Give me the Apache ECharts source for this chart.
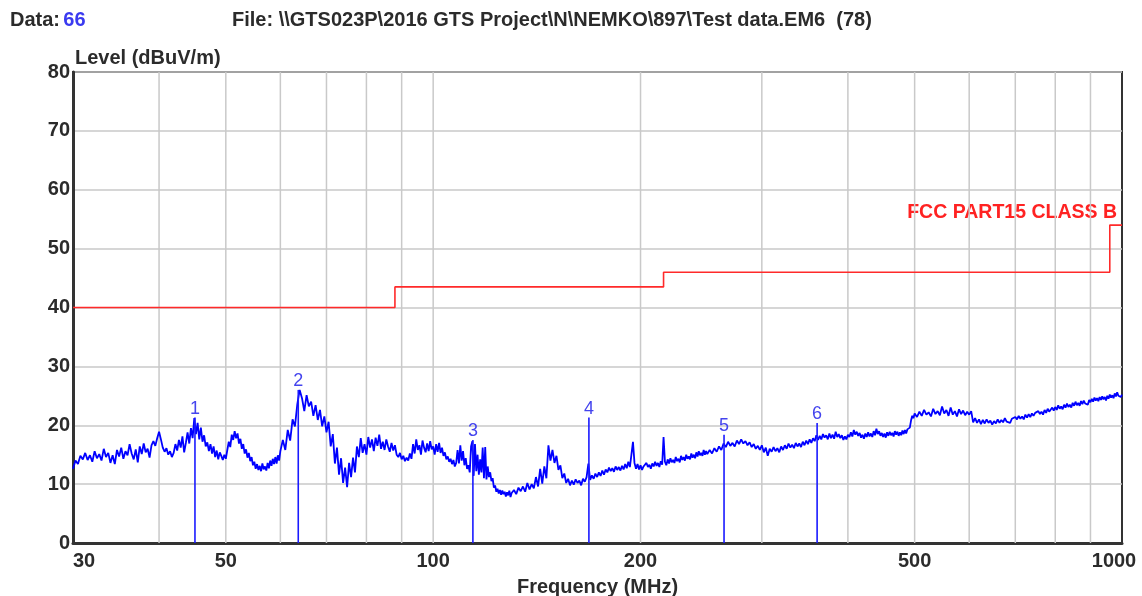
<!DOCTYPE html>
<html>
<head>
<meta charset="utf-8">
<script src="https://cdn.jsdelivr.net/npm/echarts@6/dist/echarts.min.js"></script>
<style>
html,body{margin:0;padding:0;background:#fff;}
#chart{width:1142px;height:596px;}
</style>
</head>
<body>
<div id="chart"></div>
<script>
// ---- data ----
const dataLabel = '66';
const fileLabel = 'File: \\\\GTS023P\\2016 GTS Project\\N\\NEMKO\\897\\Test data.EM6  (78)';
const yAxisTitle = 'Level (dBuV/m)';
const xAxisTitle = 'Frequency (MHz)';
const limitTitle = 'FCC PART15 CLASS B';

const xTickLabels = [30, 50, 100, 200, 500, 1000];
const xGridFreqs = [40, 50, 60, 70, 80, 90, 100, 200, 300, 400, 500, 600, 700, 800, 900];

// limit line steps (FCC Part 15 class B)
const limitEdges = [30, 88, 216, 960, 1000];
const limitLevels = [40, 43.5, 46, 54];

// marker peaks
const markerIds = ['1', '2', '3', '4', '5', '6'];
const markerFreqs = [45.1, 63.7, 114.2, 168.3, 264.4, 360.9];
const markerLevels = [21.3, 26.0, 17.5, 21.3, 18.4, 20.4];

// measured trace [MHz, dBuV/m]
const trace30to60 = [
 [30,12.6],[30.25,14.0],[30.5,13.4],[30.75,14.8],[31,14.2],[31.25,15.3],[31.5,14.1],[31.75,14.9],[32,13.8],[32.25,15.6],
 [32.5,14.4],[32.75,15.1],[33,14.0],[33.25,16.0],[33.5,14.6],[33.75,15.3],[34,13.6],[34.25,14.9],[34.5,13.4],[34.75,15.8],
 [35,14.7],[35.25,16.2],[35.5,14.3],[35.75,15.6],[36,14.9],[36.25,16.8],[36.5,15.2],[36.75,14.2],[37,15.9],[37.25,13.7],
 [37.5,16.4],[37.75,15.1],[38,16.9],[38.25,15.4],[38.5,16.0],[38.75,14.5],[39,16.6],[39.25,17.3],[39.5,16.5],[39.75,17.8],
 [40,18.9],[40.25,17.6],[40.5,16.2],[40.75,15.5],[41,16.1],[41.25,15.0],[41.5,15.6],[41.75,14.6],[42,15.3],[42.25,16.8],
 [42.5,15.7],[42.75,17.5],[43,16.2],[43.25,18.1],[43.5,15.4],[43.75,17.0],[44,18.8],[44.25,16.9],[44.5,19.5],[44.75,17.8],
 [45,21.2],[45.25,18.5],[45.5,20.4],[45.75,17.6],[46,19.6],[46.25,17.2],[46.5,18.3],[46.75,16.4],[47,17.1],[47.25,15.6],
 [47.5,16.8],[47.75,15.2],[48,16.4],[48.25,14.6],[48.5,15.7],[48.75,14.2],[49,15.4],[49.25,14.8],[49.5,14.1],[49.75,15.0],
 [50,14.3],[50.25,15.8],[50.5,17.2],[50.75,16.3],[51,18.4],[51.25,17.5],[51.5,19.0],[51.75,17.8],[52,18.6],[52.25,16.9],
 [52.5,17.7],[52.75,16.0],[53,16.8],[53.25,15.2],[53.5,15.9],[53.75,14.5],[54,15.3],[54.25,13.9],[54.5,14.6],[54.75,13.2],
 [55,13.8],[55.25,12.6],[55.5,13.4],[55.75,12.4],[56,13.1],[56.25,12.2],[56.5,13.5],[56.75,12.5],[57,13.0],[57.25,12.3],
 [57.5,13.6],[57.75,12.7],[58,14.0],[58.25,13.1],[58.5,14.3],[58.75,13.4],[59,14.6],[59.25,13.5],[59.5,14.9],[59.75,14.0],[60,15.6]
];
const trace60to130 = [
 [60.5,17.5],[61,15.8],[61.5,19.2],[62,17.4],[62.5,21.0],[63,19.8],[63.5,23.6],[64,26.0],[64.5,24.6],[65,22.4],
 [65.5,25.1],[66,23.2],[66.5,24.0],[67,21.6],[67.5,23.4],[68,20.9],[68.5,22.6],[69,19.8],[69.5,21.5],[70,18.8],
 [70.5,20.6],[71,16.4],[71.5,18.5],[72,13.5],[72.5,16.2],[73,11.6],[73.5,14.4],[74,10.2],[74.5,12.8],[75,9.5],
 [75.5,13.6],[76,11.2],[76.5,14.5],[77,12.0],[77.5,16.4],[78,14.6],[78.5,17.8],[79,15.3],[79.5,16.8],[80,15.0],
 [80.5,18.0],[81,16.2],[81.5,17.6],[82,15.6],[82.5,17.9],[83,16.5],[83.5,18.4],[84,16.0],[84.5,17.2],[85,15.8],
 [85.5,17.6],[86,16.4],[86.5,15.5],[87,17.0],[87.5,15.7],[88,16.6],[88.5,15.0],[89,14.6],[89.5,15.3],[90,14.2],
 [90.5,14.8],[91,13.9],[91.5,14.5],[92,14.0],[92.5,15.2],[93,14.3],[93.5,16.8],[94,15.2],[94.5,17.6],[95,15.8],
 [95.5,16.6],[96,15.0],[96.5,17.4],[97,16.2],[97.5,15.4],[98,16.9],[98.5,15.6],[99,17.3],[99.5,15.9],[100,16.4],
 [100.5,15.0],[101,16.8],[101.5,15.5],[102,17.0],[102.5,15.3],[103,16.2],[103.5,14.8],[104,15.4],[104.5,14.2],[105,14.7],
 [105.5,13.8],[106,14.3],[106.5,13.4],[107,14.1],[107.5,13.0],[108,13.6],[108.5,15.8],[109,13.5],[109.5,16.6],[110,14.0],
 [110.5,15.6],[111,13.2],[111.5,14.4],[112,12.6],[112.5,13.2],[113,12.0],[113.5,16.4],[114,17.3],[114.5,11.4],[115,16.8],
 [115.5,12.2],[116,15.0],[116.5,11.6],[117,14.2],[117.5,12.0],[118,16.2],[118.5,11.0],[119,16.3],[119.5,10.8],[120,13.0],
 [120.5,11.2],[121,12.0],[121.5,10.5],[122,11.0],[122.5,9.4],[123,9.8],[123.5,8.7],[124,9.2],[124.5,8.4],[125,9.0],
 [125.5,8.2],[126,8.9],[126.5,8.3],[127,8.7],[127.5,7.9],[128,8.6],[128.5,8.1],[129,8.9],[129.5,7.8],[130,8.5]
];
const trace130to250 = [
 [131,9.0],[132,8.3],[133,9.4],[134,8.8],[135,9.6],[136,8.7],[137,10.2],[138,9.1],[139,10.0],[140,9.3],
 [141,11.2],[142,9.6],[143,12.6],[144,10.1],[145,13.0],[146,11.0],[147,16.6],[148,14.0],[149,15.8],[150,13.6],
 [151,14.8],[152,12.4],[153,13.2],[154,11.0],[155,11.8],[156,10.2],[157,10.9],[158,9.8],[159,10.6],[160,9.9],
 [161,10.8],[162,10.2],[163,10.6],[164,9.8],[165,10.9],[166,10.4],[167,11.2],[168,13.5],[169,10.7],[170,11.5],
 [171,10.9],[172,11.8],[173,11.2],[174,12.0],[175,11.4],[176,12.3],[177,11.6],[178,12.5],[179,12.0],[180,12.8],
 [181,12.2],[182,12.7],[183,12.1],[184,13.0],[185,12.4],[186,12.9],[187,12.3],[188,13.1],[189,12.5],[190,13.4],
 [191,12.7],[192,13.8],[193,12.9],[194,15.0],[195,17.2],[196,13.6],[197,12.6],[198,13.4],[199,12.5],[200,13.2],
 [201,12.4],[202,13.0],[203,12.7],[204,13.6],[205,12.9],[206,13.3],[207,12.6],[208,13.5],[209,13.0],[210,13.8],
 [211,13.1],[212,13.6],[213,12.9],[214,13.9],[215,13.3],[216,18.0],[217,13.8],[218,13.2],[219,14.2],[220,13.5],
 [221,14.4],[222,13.7],[223,14.1],[224,13.6],[225,14.6],[226,13.9],[227,14.3],[228,13.7],[229,14.8],[230,14.1],
 [231,14.6],[232,14.0],[233,15.0],[234,14.3],[235,14.7],[236,14.2],[237,15.2],[238,14.5],[239,15.0],[240,14.4],
 [241,15.4],[242,14.7],[243,15.6],[244,14.9],[245,15.3],[246,14.8],[247,15.8],[248,15.0],[249,15.6],[250,15.1]
];
const trace250to500 = [
 [252,15.8],[254,15.2],[256,16.1],[258,15.5],[260,16.4],[262,15.8],[264,16.9],[266,16.3],[268,17.2],[270,16.5],
 [272,17.0],[274,16.4],[276,17.4],[278,16.8],[280,17.6],[282,16.9],[284,17.3],[286,16.6],[288,17.1],[290,16.3],
 [292,16.8],[294,16.0],[296,16.5],[298,15.8],[300,16.6],[302,15.4],[304,16.2],[306,14.8],[308,16.0],[310,15.5],
 [312,16.3],[314,15.6],[316,16.1],[318,15.4],[320,16.4],[322,15.8],[324,16.6],[326,16.0],[328,16.9],[330,16.2],
 [332,16.7],[334,16.1],[336,17.0],[338,16.4],[340,16.9],[342,16.3],[344,17.2],[346,16.6],[348,17.4],[350,16.8],
 [352,17.6],[354,17.0],[356,17.8],[358,17.3],[360,18.3],[362,17.5],[364,18.2],[366,17.6],[368,18.5],[370,17.9],
 [372,18.3],[374,17.6],[376,18.6],[378,17.8],[380,18.4],[382,17.7],[384,18.9],[386,18.0],[388,18.5],[390,17.8],
 [392,18.3],[394,17.5],[396,18.1],[398,17.6],[400,18.4],[402,18.0],[404,18.8],[406,18.1],[408,19.2],[410,18.4],
 [412,18.9],[414,18.2],[416,18.7],[418,17.9],[420,18.4],[422,17.7],[424,18.6],[426,18.0],[428,18.8],[430,18.1],
 [432,18.6],[434,18.0],[436,19.0],[438,18.3],[440,19.4],[442,18.5],[444,19.0],[446,18.2],[448,18.7],[450,18.0],
 [452,18.6],[454,17.9],[456,18.8],[458,18.2],[460,18.9],[462,18.3],[464,18.7],[466,18.1],[468,19.0],[470,18.4],
 [472,18.9],[474,18.2],[476,18.8],[478,18.3],[480,19.1],[482,18.5],[484,19.2],[486,18.6],[488,19.3],[490,19.0],
 [492,19.6],[494,20.8],[496,21.6],[498,21.2],[500,22.0]
];
const trace500to1000 = [
 [504,21.4],[508,22.3],[512,21.6],[516,22.6],[520,21.8],[524,22.2],[528,21.5],[532,22.8],[536,21.9],[540,22.4],
 [544,21.7],[548,23.2],[552,22.0],[556,22.6],[560,21.6],[564,23.0],[568,21.8],[572,22.4],[576,21.5],[580,22.7],
 [584,21.9],[588,22.5],[592,21.7],[596,22.3],[600,21.8],[604,22.4],[608,20.5],[612,21.2],[616,20.4],[620,21.0],
 [624,20.2],[628,20.9],[632,20.3],[636,21.0],[640,20.4],[644,20.8],[648,20.1],[652,20.7],[656,20.3],[660,21.0],
 [664,20.4],[668,20.9],[672,20.5],[676,21.2],[680,20.6],[684,20.9],[688,20.4],[692,21.1],[696,20.8],[700,21.4],
 [704,21.0],[708,21.6],[712,21.1],[716,21.5],[720,21.0],[724,21.8],[728,21.3],[732,21.9],[736,21.4],[740,22.0],
 [744,21.6],[748,22.1],[752,21.8],[756,22.4],[760,21.9],[764,22.3],[768,21.8],[772,22.6],[776,22.1],[780,22.8],
 [784,22.3],[788,22.6],[792,23.0],[796,22.5],[800,23.1],[804,22.6],[808,23.4],[812,22.8],[816,23.2],[820,22.7],
 [824,23.5],[828,23.0],[832,23.7],[836,23.1],[840,23.5],[844,23.0],[848,23.8],[852,23.3],[856,24.0],[860,23.4],
 [864,23.8],[868,23.3],[872,24.1],[876,23.6],[880,24.2],[884,23.7],[888,24.0],[892,23.5],[896,24.3],[900,23.9],
 [904,24.5],[908,24.0],[912,24.7],[916,24.2],[920,24.6],[924,24.1],[928,24.8],[932,24.3],[936,24.9],[940,24.4],
 [944,24.8],[948,24.2],[952,25.0],[956,24.5],[960,25.2],[964,24.7],[968,25.1],[972,24.6],[976,25.4],[980,24.9],
 [984,25.6],[988,25.0],[992,25.3],[996,24.8],[1000,25.2]
];

// ---- build ----
const traceData = [].concat(trace30to60, trace60to130, trace130to250, trace250to500, trace500to1000);
const limitData = [];
for (let i = 0; i < limitLevels.length; i++) {
  limitData.push([limitEdges[i], limitLevels[i]]);
  limitData.push([limitEdges[i + 1], limitLevels[i]]);
}
const markerData = markerFreqs.map((f, i) => [f, markerLevels[i]]);

const FONT = '"Liberation Sans", Arial, sans-serif';
const TXT = '#2b2b2b';

const chart = echarts.init(document.getElementById('chart'), null, {renderer: 'canvas'});
chart.setOption({
  animation: false,
  backgroundColor: '#ffffff',
  grid: {left: 73, right: 20, top: 72, bottom: 53, containLabel: false, outerBoundsMode: 'none',
         show: true, borderColor: '#333', borderWidth: 2, backgroundColor: 'transparent'},
  xAxis: {
    type: 'log', logBase: 10, min: 30, max: 1000,
    axisLine: {show: true, onZero: false, lineStyle: {color: '#333', width: 3}},
    axisTick: {show: false}, axisLabel: {show: false}, splitLine: {show: false},
    name: xAxisTitle, nameLocation: 'middle', nameGap: 34,
    nameTextStyle: {fontFamily: FONT, fontWeight: 'bold', fontSize: 20, color: TXT}
  },
  yAxis: {
    type: 'value', min: 0, max: 80, interval: 10,
    axisLine: {show: true, lineStyle: {color: '#333', width: 3}},
    axisTick: {show: false},
    axisLabel: {margin: 3, fontFamily: FONT, fontWeight: 'bold', fontSize: 20, color: TXT},
    splitLine: {show: true, lineStyle: {color: '#c9c9c9', width: 1.5}}
  },
  graphic: [
    {type: 'text', left: 10, top: 10, style: {
      text: '{a|Data:} {b|' + dataLabel + '}',
      rich: {a: {fontFamily: FONT, fontWeight: 'bold', fontSize: 20, fill: TXT},
             b: {fontFamily: FONT, fontWeight: 'bold', fontSize: 20, fill: '#3a3af0'}}
    }},
    {type: 'text', left: 232, top: 10, style: {text: fileLabel, fontFamily: FONT, fontWeight: 'bold', fontSize: 20, fill: TXT}},
    {type: 'text', left: 75, top: 48, style: {text: yAxisTitle, fontFamily: FONT, fontWeight: 'bold', fontSize: 20, fill: TXT}},
    {type: 'text', right: 25, top: 203, style: {text: limitTitle, fontFamily: FONT, fontWeight: 'bold', fontSize: 19.5, fill: '#ff2222'}}
  ],
  series: [
    {
      type: 'custom', silent: true, z: 1, clip: false,
      data: xGridFreqs.map(f => [f, 0]),
      renderItem: function (params, api) {
        const f = api.value(0);
        const p0 = api.coord([f, 0]);
        const p1 = api.coord([f, 80]);
        return {type: 'line', shape: {x1: p0[0], y1: p0[1], x2: p1[0], y2: p1[1]}, style: {stroke: '#c9c9c9', lineWidth: 1.5}};
      }
    },
    {
      type: 'custom', silent: true, z: 5, clip: false,
      data: xTickLabels.map(f => [f, 0]),
      renderItem: function (params, api) {
        const f = api.value(0);
        const p = api.coord([f, 0]);
        let align = 'center', dx = 0;
        if (params.dataIndex === 0) { align = 'left'; dx = 0; }
        if (params.dataIndex === xTickLabels.length - 1) { dx = -8; }
        return {type: 'text', x: p[0] + dx, y: p[1] + 8, style: {
          text: String(f), textAlign: align, textVerticalAlign: 'top',
          fontFamily: FONT, fontWeight: 'bold', fontSize: 20, fill: TXT}};
      }
    },
    {
      type: 'line', data: limitData, symbol: 'none', z: 3,
      lineStyle: {color: '#ff2a2a', width: 1.6}
    },
    {
      type: 'line', data: traceData, symbol: 'none', z: 4,
      lineStyle: {color: '#0000ff', width: 1.8}
    },
    {
      type: 'custom', silent: true, z: 6, clip: false,
      data: markerData,
      renderItem: function (params, api) {
        const f = api.value(0), v = api.value(1);
        const p0 = api.coord([f, 0]);
        const p1 = api.coord([f, v]);
        return {type: 'group', children: [
          {type: 'line', shape: {x1: p0[0], y1: p0[1], x2: p1[0], y2: p1[1]}, style: {stroke: '#1a1aff', lineWidth: 1.6}},
          {type: 'text', x: p1[0], y: p1[1], style: {
            text: markerIds[params.dataIndex], textAlign: 'center', textVerticalAlign: 'bottom',
            fontFamily: FONT, fontSize: 18, fill: '#4444ee'}}
        ]};
      }
    }
  ]
});
</script>
</body>
</html>
